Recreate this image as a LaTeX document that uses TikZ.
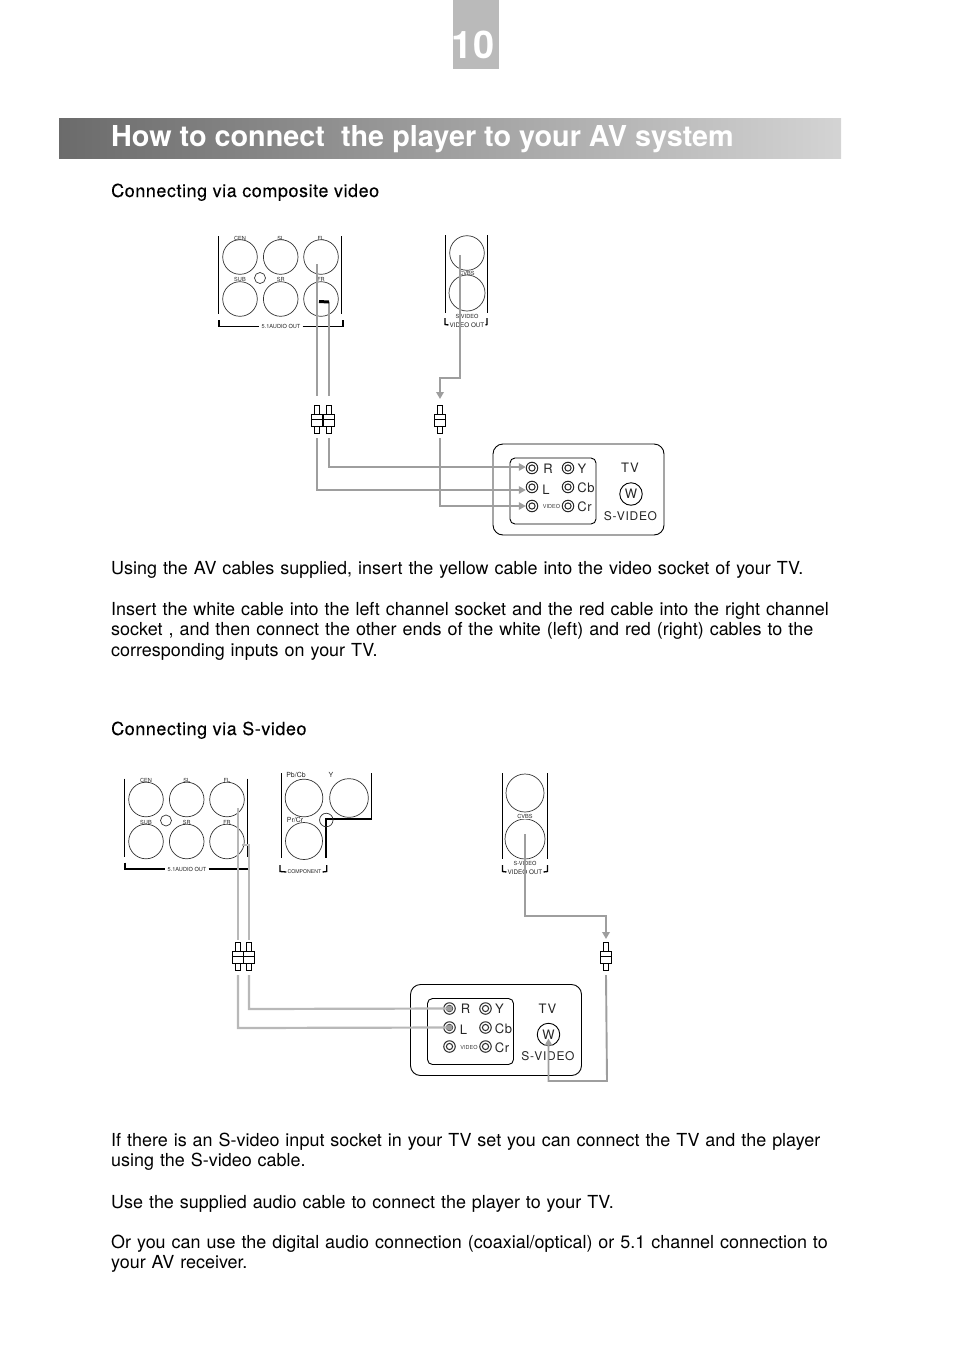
\documentclass[tikz,border=0pt]{standalone}
\usepackage{fontspec}
\setmainfont{TeX Gyre Heros}
\newfontfamily\headf[FakeBold=0.15,LetterSpace=3]{TeX Gyre Heros}
\newfontfamily\tvf[LetterSpace=6]{TeX Gyre Heros}
\usetikzlibrary{arrows.meta,calc}
\definecolor{cable}{gray}{0.62}
\definecolor{cablelight}{gray}{0.72}
\tikzset{
  x=1pt,y=-1pt,
  body/.style={anchor=base west,inner sep=0pt,font=\fontsize{17.95}{20.6}\selectfont,align=left},
  head/.style={anchor=base west,inner sep=0pt,font=\headf\fontsize{18}{20.6}\selectfont},
  tiny/.style={inner sep=0pt,font=\fontsize{5.6}{6}\selectfont,text=black!85},
  tinyb/.style={inner sep=0pt,font=\fontsize{6.3}{7}\selectfont,text=black!85},
  tinyc/.style={inner sep=0pt,font=\fontsize{7}{7}\selectfont,text=black!85},
  jack/.style={circle,draw=black!80,line width=.7pt,inner sep=0pt,minimum size=34.6pt},
  bigjack/.style={circle,draw=black!80,line width=.7pt,inner sep=0pt,minimum size=38pt},
  smalljack/.style={circle,draw=black!80,line width=.7pt,inner sep=0pt,minimum size=11pt},
  panelbar/.style={draw=black,line width=.9pt},
  brk/.style={draw=black,line width=1.3pt},
  cableline/.style={draw=cable,line width=1.9pt},
  lightline/.style={draw=cablelight,line width=2.2pt},
  cablearrow/.style={draw=cable,line width=1.9pt,-{Triangle[length=7pt,width=7.5pt,fill=cable]}},
  plugpart/.style={draw=black,line width=.7pt,fill=white},
  tvbox/.style={draw=black,line width=.9pt},
  sock/.style={circle,draw=black!85,line width=1pt,inner sep=0pt,minimum size=11.5pt},
  tvtxt/.style={inner sep=0pt,font=\tvf\fontsize{13}{14}\selectfont,text=black!85},
}
% plug centred on x at #2, top at #3
\newcommand{\myplug}[3]{%
  \draw[plugpart] (#2-2.2,#3) rectangle (#2+2.2,#3+9);
  \draw[plugpart] (#2-2.2,#3+21) rectangle (#2+2.2,#3+28);
  \draw[plugpart] (#2-5.5,#3+9) rectangle (#2+5.5,#3+21);
  \draw[plugpart] (#2-5.5,#3+14.5) -- (#2+5.5,#3+14.5);
  \coordinate (#1t) at (#2,#3-1);
  \coordinate (#1b) at (#2,#3+33);
}
% TV panel, prefix #1, offset #2,#3
\newcommand{\mytv}[3]{%
\begin{scope}[shift={(#2,#3)}]
  \node[tvbox,rounded corners=10pt,minimum width=171pt,minimum height=91pt,inner sep=0pt] (#1box) at (578.5,489.5) {};
  \node[tvbox,rounded corners=5pt,minimum width=86pt,minimum height=66pt,inner sep=0pt] (#1inner) at (553,491) {};
  \foreach \n/\sx/\sy in {R/532/468,L/532/487,V/532/506,Y/568/468,B/568/487,C/568/506}{
    \node[sock] (#1s\n) at (\sx,\sy) {};
    \draw[black!85,line width=1pt] (\sx,\sy) circle (3.1);
  }
  \node[tvtxt] (#1xR) at (548,468.5) {R};
  \node[tvtxt] (#1xL) at (546,489.5) {L};
  \node[tvtxt] (#1xY) at (582,468.5) {Y};
  \node[tvtxt] (#1xB) at (586,488) {Cb};
  \node[tvtxt] (#1xC) at (584.5,507) {Cr};
  \node[inner sep=0pt,font=\fontsize{5.5}{6}\selectfont,text=black!75] (#1xV) at (551.5,506.5) {VIDEO};
  \node[tvtxt] (#1xT) at (630,468) {TV};
  \node[circle,draw=black,line width=.9pt,minimum size=22.5pt,inner sep=0pt,tvtxt] (#1W) at (631,494) {W};
  \node[tvtxt,font=\tvf\fontsize{12}{12}\selectfont,text=black!85] (#1xS) at (630.5,516) {S-VIDEO};
\end{scope}}
% 5.1 audio panel, prefix #1, offset #2,#3
\newcommand{\myaudio}[3]{%
\begin{scope}[shift={(#2,#3)}]
  \draw[panelbar] (218.7,236) -- (218.7,314);
  \draw[panelbar] (341.7,236) -- (341.7,314);
  \node[jack] (#1a) at (240,257) {};
  \node[jack] (#1b) at (280.7,257) {};
  \node[jack] (#1c) at (321,257) {};
  \node[jack] (#1d) at (240,299) {};
  \node[jack] (#1e) at (280.7,299) {};
  \node[jack] (#1f) at (321,299) {};
  \node[smalljack] (#1g) at (260,278) {};
  \node[tiny] (#1l1) at (240,238) {CEN};
  \node[tiny] (#1l2) at (280.7,238) {SL};
  \node[tiny] (#1l3) at (321,238) {FL};
  \node[tiny] (#1l4) at (240,279.5) {SUB};
  \node[tiny] (#1l5) at (280.7,279.5) {SR};
  \node[tiny] (#1l6) at (321,279.5) {FR};
  \node[tiny] (#1lab) at (281,326.5) {5.1AUDIO OUT};
  \draw[brk] (219,320) -- (219,326.5) -- ($(#1lab.west)+(-2,0)$);
  \draw[brk] ($(#1lab.east)+(2,0)$) -- (343,326.5) -- (343,320);
\end{scope}}
\begin{document}
\begin{tikzpicture}
\useasboundingbox (0,0) rectangle (954,1349);
% header
\fill[black!27] (453,0) rectangle (499,69);
\node[inner sep=0pt,text=white,font=\fontsize{38}{38}\bfseries\selectfont] (pg) at (473,45) {10};
\shade[left color=black!58,right color=black!17,shading angle=90] (59,118) rectangle (841,158);
\node[anchor=base west,inner sep=0pt,text=white,font=\fontsize{28.8}{30}\bfseries\selectfont] (ttl) at (111,146.5) {How to connect\ \ the player to your AV system};
\node[head] (h1) at (111,197) {Connecting via composite video};
% first panel
\begin{scope}[panelbar/.style={draw=black,line width=1.4pt}]
\myaudio{a}{0}{0}
\end{scope}
\draw[panelbar] (445,235) -- (445,313);
\draw[panelbar] (487,235) -- (487,313);
\node[jack] (vt) at (467,253) {};
\node[jack,minimum size=36pt] (vb) at (467,293) {};
\node[tiny] (vcvbs) at (467,273.5) {CVBS};
\node[tiny] (vs) at (467,316) {S-VIDEO};
\node[tinyb] (vo) at (467,325) {VIDEO OUT};
\draw[brk] (445,318) -- (445,324.5) -- ($(vo.west)+(-1,0)$);
\draw[brk] ($(vo.east)+(1,0)$) -- (487,324.5) -- (487,318);
\myplug{p1}{317}{405}
\myplug{p2}{329}{405}
\myplug{p3}{440}{405}
\mytv{t}{0}{0}
\coordinate (c1) at (317,264);
\coordinate (c2) at (329,302);
\coordinate (c3) at (460,255);
\draw[cableline] (c1) -- ($(p1t)+(0,-8)$);
\draw[cableline] (c2) -- ($(p2t)+(0,-8)$);
\draw[black,line width=3pt] (319,301.5) -- (c2);
\draw[cablearrow] (c3) -- (460,378) -- (440,378) -- ($(p3t)+(0,-5)$);
\draw[cablearrow] (p1b) -- (317,490) -- (tsL.west |- 0,490);
\draw[cablearrow] (p2b) -- (329,467) -- (tsR.west |- 0,467);
\draw[cablearrow] (p3b) -- (440,506) -- (tsV.west);
\node[body,text width=760pt] (b1) at (111,574) {Using the AV cables supplied, insert the yellow cable into the video socket of your TV.};
\node[body,text width=760pt] (b2) at (111,615) {Insert the white cable into the left channel socket and the red cable into the right channel\\socket , and then connect the other ends of the white (left) and red (right) cables to the\\corresponding inputs on your TV.};
\node[head] (h2) at (111,735) {Connecting via S-video};
% second panel
\myaudio{b}{-94}{542.5}
% component
\draw[panelbar] (281.5,773) -- (281.5,858);
\draw[black,line width=1.2pt] (371.5,773) -- (371.5,819) -- (326,819) -- (326,858);
\node[jack,minimum size=37.7pt] (ca) at (304,798) {};
\node[jack,minimum size=38.7pt] (cb) at (349,798) {};
\node[jack,minimum size=37pt] (cc) at (304,841) {};
\node[smalljack,minimum size=13.5pt] (cd) at (326.3,820) {};
\node[tinyc] (cl1) at (296,775) {Pb/Cb};
\node[tinyc] (cl2) at (331,775) {Y};
\node[tinyc] (cl3) at (295,820) {Pr/Cr};
\node[tiny,font=\fontsize{5.2}{6}\selectfont] (cl4) at (304.5,872) {COMPONENT};
\draw[brk] (280,865) -- (280,871.5) -- ($(cl4.west)+(-1,0)$);
\draw[brk] ($(cl4.east)+(1,0)$) -- (326.7,871.5) -- (326.7,865);
% s-video out
\draw[panelbar] (502.3,773) -- (502.3,859);
\draw[panelbar] (547.3,773) -- (547.3,859);
\node[bigjack] (st) at (525,793) {};
\node[bigjack,minimum size=40pt] (sb) at (525,839) {};
\node[tiny,fill=white,inner sep=.5pt] (scv) at (525,816) {CVBS};
\node[tiny] (ssv) at (525,863) {S-VIDEO};
\node[tinyb] (svo) at (525,872) {VIDEO OUT};
\draw[brk] (502.5,865) -- (502.5,871.5) -- ($(svo.west)+(-1,0)$);
\draw[brk] ($(svo.east)+(1,0)$) -- (547.5,871.5) -- (547.5,865);
\myplug{q1}{238}{942}
\myplug{q2}{249}{942}
\myplug{q3}{606}{942}
\mytv{u}{-82.5}{540.5}
\coordinate (d1) at (238,808);
\coordinate (d2) at (242,845);
\coordinate (d3) at (525,834);
\draw[lightline] (d1) -- ($(q1t)+(0,-1)$);
\draw[lightline] (d2) -- (249,845) -- ($(q2t)+(0,-1)$);
\draw[cablearrow] (d3) -- (525,916) -- (606,916) -- ($(q3t)+(0,-2)$);
\draw[lightline] (q1b) -- (238,1028) -- (usL.center);
\draw[lightline] (q2b) -- (249,1009) -- (usR.center);
\fill[cable] (usL) circle (3);
\fill[cable] (usR) circle (3);
\draw[cablearrow] (q3b) -- (607,1081) -- (548.5,1081) -- ($(uW.center)+(0,4)$);
\node[body,text width=760pt] (b3) at (111,1146) {If there is an S-video input socket in your TV set you can connect the TV and the player\\using the S-video cable.};
\node[body,text width=760pt] (b4) at (111,1208) {Use the supplied audio cable to connect the player to your TV.};
\node[body,text width=760pt] (b5) at (111,1248) {Or you can use the digital audio connection (coaxial/optical) or 5.1 channel connection to\\your AV receiver.};
\end{tikzpicture}
\end{document}
